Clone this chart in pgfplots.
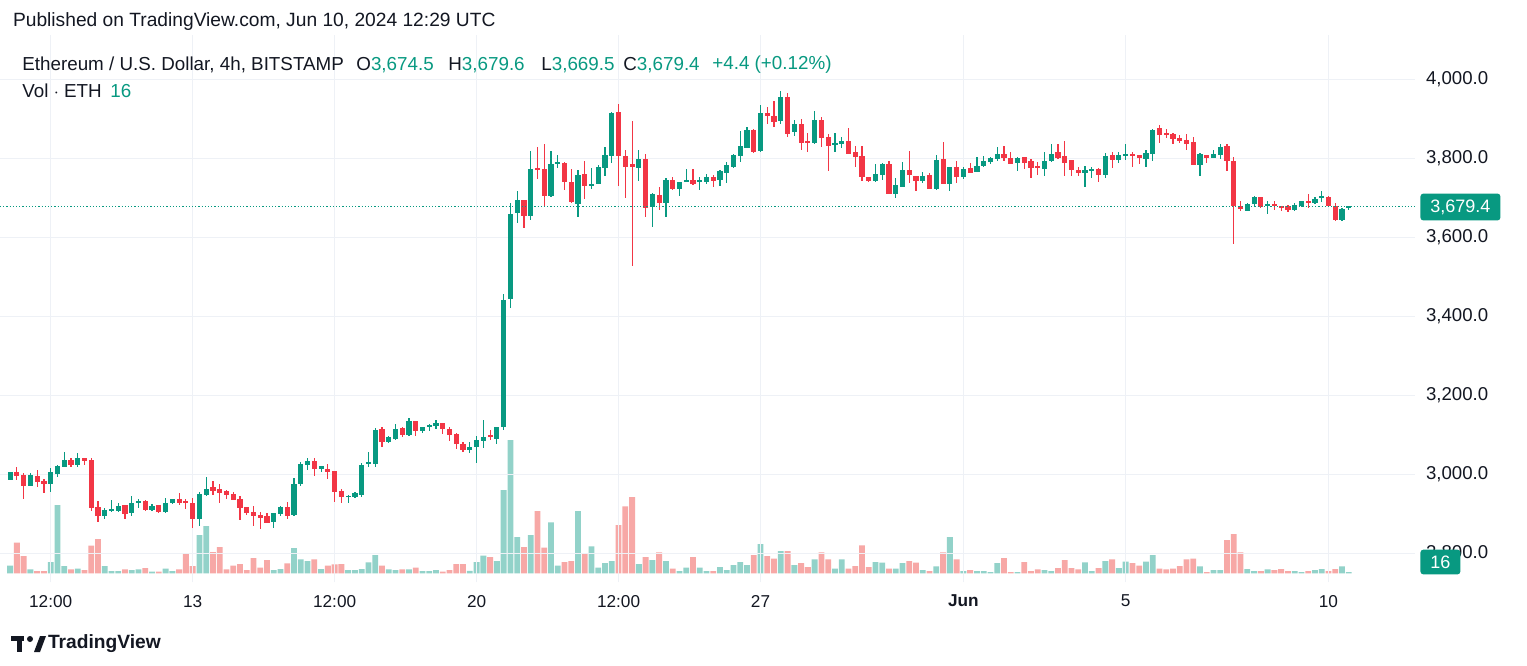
\documentclass[border=0pt]{standalone}
\usepackage{pgfplots}
\pgfplotsset{compat=1.18}
\usepackage{pgfplotstable}
\usepackage{fontspec}
\setmainfont{Liberation Sans}
\definecolor{cg}{RGB}{8,153,129}
\definecolor{cr}{RGB}{242,54,69}
\definecolor{vg}{RGB}{146,210,201}
\definecolor{vr}{RGB}{247,168,166}
\definecolor{txt}{RGB}{19,23,34}
\definecolor{gridc}{RGB}{238,241,246}
\newcommand{\fs}[1]{\fontsize{#1}{#1}\selectfont}
% rising candles: index, open, high, low, close, volume
\pgfplotstableread{
i o h l c v
0 2988 3007 2986 3006 7.7
3 2972 3003 2970 2997 4
6 2976 3017 2955 3005 11.3
7 3003 3024 2993 3020 68.3
8 3020 3056 3018 3037 7.3
10 3026 3054 3020 3042 4.7
14 2897 2915 2887 2910 7.3
15 2908 2935 2906 2912 2.3
16 2908 2927 2906 2920 2.3
18 2903 2946 2896 2926 3.3
19 2930 2939 2916 2933 4
21 2912 2926 2908 2920 1.7
23 2905 2940 2903 2928 4.7
24 2928 2939 2926 2937 2.3
28 2887 2955 2870 2950 38.3
29 2950 2994 2946 2963 47.3
39 2881 2903 2865 2902 3.3
40 2900 2920 2896 2917 4.3
42 2898 2990 2896 2976 25.3
43 2978 3031 2972 3027 14
44 3026 3043 3011 3034 12.3
46 3016 3022 3006 3020 4.3
50 2944 2947 2927 2946 3.3
51 2944 2956 2940 2952 3.3
52 2950 3030 2943 3024 4.3
53 3028 3056 3020 3031 11
54 3028 3119 3020 3111 18.3
56 3082 3097 3079 3094 4
57 3090 3127 3087 3115 3.3
59 3100 3144 3098 3135 4
61 3110 3121 3105 3120 2.3
62 3123 3128 3110 3125 2.3
63 3123 3138 3115 3130 3.3
68 3064 3083 3054 3070 2.5
69 3070 3098 3028 3087 11.3
70 3085 3138 3066 3093 17.7
72 3090 3121 3077 3120 12.3
73 3120 3457 3113 3442 83.3
74 3444 3688 3422 3660 133.3
75 3663 3718 3637 3695 36.3
77 3655 3819 3644 3773 38.3
80 3706 3819 3703 3786 51
81 3786 3809 3775 3790 7.7
84 3686 3771 3652 3758 62.3
86 3731 3775 3722 3734 27
87 3737 3784 3735 3778 5.7
88 3777 3830 3756 3809 10.3
89 3807 3918 3788 3914 12.3
93 3778 3822 3744 3799 9.3
95 3678 3713 3627 3709 13.3
97 3687 3750 3651 3744 12.3
99 3723 3741 3706 3740 2.3
100 3741 3773 3740 3746 5.7
102 3741 3754 3720 3746 5.7
103 3741 3761 3735 3752 2.3
105 3747 3771 3730 3768 6.3
106 3763 3792 3739 3784 3.3
107 3779 3811 3775 3809 8.3
108 3807 3870 3790 3830 11.3
109 3828 3879 3826 3872 8.3
111 3819 3935 3817 3914 29.3
114 3895 3971 3887 3956 22.3
116 3868 3897 3857 3887 8.3
119 3841 3921 3838 3897 14
122 3834 3864 3817 3838 4.7
123 3838 3854 3826 3844 14
128 3744 3786 3740 3761 11.3
129 3760 3789 3746 3786 10.7
131 3712 3750 3701 3731 4.7
132 3729 3792 3729 3771 10.3
135 3743 3765 3739 3756 3.3
137 3723 3809 3720 3796 7
139 3737 3779 3718 3778 36.3
141 3754 3778 3747 3773 2.3
143 3767 3805 3765 3781 2.3
144 3781 3806 3778 3794 2.3
145 3792 3805 3786 3800 1.3
146 3799 3828 3794 3811 10.3
149 3790 3803 3769 3800 1.3
153 3775 3816 3756 3794 3.3
154 3794 3836 3790 3811 2.3
159 3763 3781 3727 3769 11
160 3771 3779 3750 3773 2.3
162 3760 3815 3751 3806 12.3
164 3796 3817 3788 3809 5.3
165 3807 3838 3796 3811 11.7
168 3799 3822 3779 3813 11.7
169 3811 3875 3794 3872 18.3
176 3785 3813 3756 3811 7
178 3803 3822 3801 3811 3.3
179 3809 3836 3798 3828 3.3
183 3669 3687 3668 3684 4.3
184 3685 3705 3678 3702 2.3
186 3681 3693 3659 3685 4
190 3670 3688 3667 3682 2.3
191 3681 3693 3678 3691 1.3
193 3687 3703 3685 3697 3.3
194 3701 3718 3691 3705 4.3
197 3644 3674 3643 3672 7
198 3674.5 3679.6 3669.5 3679.4 1.3
}\upc
% falling candles: index, open, high, low, close, volume
\pgfplotstableread{
i o h l c v
1 3006 3020 2986 2997 30.7
2 2999 3003 2938 2972 17.3
4 2995 3011 2969 2981 2.3
5 2983 2989 2952 2976 2.3
9 3037 3042 3020 3026 4
11 3042 3043 3024 3035 3.3
12 3037 3043 2908 2916 27.7
13 2917 2933 2881 2897 34.3
17 2922 2924 2887 2900 4
20 2932 2935 2908 2912 5.3
22 2922 2923 2903 2905 1.7
25 2937 2954 2923 2928 4
26 2933 2937 2914 2928 20
27 2928 2940 2865 2887 7.3
30 2967 2983 2948 2958 21.3
31 2962 2976 2929 2955 26.3
32 2958 2962 2938 2948 4
33 2951 2957 2936 2937 7.7
34 2938 2946 2885 2916 9.3
35 2917 2918 2897 2903 3.3
36 2905 2920 2870 2895 15.3
37 2897 2906 2862 2891 5.7
38 2895 2902 2878 2879 13.3
41 2917 2931 2887 2896 10
45 3033 3041 2997 3014 14
47 3014 3027 2988 3007 7.7
48 3007 3009 2931 2957 9
49 2957 2963 2927 2944 9.3
55 3115 3121 3070 3082 7.7
58 3117 3121 3096 3100 4
60 3135 3136 3097 3110 5.7
64 3130 3131 3102 3115 1.7
65 3115 3121 3086 3100 3.3
66 3102 3105 3064 3079 9.3
67 3077 3082 3056 3064 9.3
71 3100 3113 3087 3096 16.3
76 3695 3696 3625 3655 26.3
78 3775 3830 3747 3771 62.3
79 3773 3836 3681 3706 25.7
82 3788 3790 3720 3741 11.3
83 3741 3773 3687 3691 12.3
85 3760 3794 3697 3731 20
90 3917 3937 3731 3807 48.3
91 3806 3822 3701 3779 67
92 3785 3895 3529 3779 76.3
94 3799 3811 3651 3676 16.3
96 3708 3727 3670 3689 21
98 3744 3752 3720 3723 4.7
101 3746 3773 3733 3736 16.3
104 3752 3758 3727 3744 2.3
110 3872 3874 3813 3817 18.3
112 3914 3930 3887 3908 17.3
113 3908 3946 3880 3893 14.7
115 3956 3965 3854 3864 22.3
117 3887 3899 3822 3841 10.3
118 3844 3864 3817 3841 6.3
120 3897 3905 3828 3854 21
121 3854 3862 3769 3832 14
124 3843 3877 3811 3813 4.7
125 3815 3832 3779 3805 7.3
126 3805 3832 3744 3754 28
127 3752 3754 3741 3744 6.3
130 3785 3794 3710 3712 4.7
133 3771 3820 3739 3760 12.3
134 3754 3756 3718 3744 10.7
136 3758 3763 3722 3723 2.3
138 3798 3843 3735 3737 21
140 3778 3794 3737 3754 14
142 3775 3788 3763 3765 3.3
147 3811 3832 3794 3803 15.3
148 3800 3816 3786 3788 1.3
150 3803 3805 3773 3790 11.3
151 3794 3798 3750 3778 2.3
152 3781 3792 3758 3778 4
155 3815 3836 3800 3803 5.3
156 3805 3845 3756 3790 13.3
157 3795 3796 3756 3771 5.3
158 3769 3779 3756 3763 4
161 3773 3775 3740 3760 5.3
163 3809 3816 3777 3798 14
166 3811 3816 3778 3807 10.3
167 3807 3809 3785 3801 7.7
170 3876 3885 3840 3861 4.7
171 3864 3875 3853 3860 4
172 3861 3864 3837 3849 4.7
173 3851 3859 3840 3844 7.3
174 3847 3862 3822 3838 14
175 3840 3854 3783 3785 14.7
177 3809 3810 3789 3803 1.3
180 3832 3837 3769 3794 33.3
181 3794 3803 3584 3680 39.3
182 3680 3693 3668 3672 21
185 3702 3703 3676 3678 2.3
187 3685 3693 3670 3680 3.3
188 3680 3681 3667 3676 4.3
189 3678 3682 3665 3670 2.3
192 3692 3709 3676 3688 2.3
195 3703 3704 3678 3680 2.3
196 3678 3687 3643 3644 4.3
}\downc
\pgfplotsset{candle/.style={only marks, mark=text, text mark={},
  error bars/.cd, y dir=both, y explicit, error mark=none}}
\begin{document}
\begin{tikzpicture}[x=0.5pt,y=-0.5pt]
\useasboundingbox (0,0) rectangle (1527,665);
\fill[white] (0,0) rectangle (1527,665);
% volume pane
\begin{axis}[at={(0pt,-291pt)}, anchor=south west, scale only axis,
  width=707.5pt, height=273.5pt, hide axis,
  xmin=-1.494, xmax=207.8, ymin=-8.7, ymax=538.3,
  ybar, bar width=2.9pt]
\addplot[fill=vg, draw=none, bar shift=0pt] table[x=i, y=v] {\upc};
\addplot[fill=vr, draw=none, bar shift=0pt] table[x=i, y=v] {\downc};
\end{axis}
% price pane
\begin{axis}[at={(0pt,-291pt)}, anchor=south west, scale only axis,
  width=707.5pt, height=273.5pt,
  xmin=-1.494, xmax=207.8, ymin=2727.9, ymax=4112.7,
  axis line style={draw=none}, major tick length=0pt,
  grid=major, major grid style={gridc, line width=0.6pt},
  ytick={2800,3000,3200,3400,3600,3800,4000},
  yticklabels={{2,800.0},{3,000.0},{3,200.0},{3,400.0},{3,600.0},{3,800.0},{4,000.0}},
  yticklabel pos=right,
  yticklabel style={anchor=west, xshift=2pt, font=\fs{9.3pt}, text=txt},
  xtick={6,27,48,69,90,111,141,165,195},
  xticklabels={12:00,13,12:00,20,12:00,27,\textbf{Jun},5,10},
  xticklabel style={font=\fs{8.6pt}, text=txt, yshift=-3pt},
  clip=false]
\addplot[candle, error bar style={cg, line width=0.6pt}]
  table[x=i, y expr=(\thisrow{h}+\thisrow{l})/2, y error expr=(\thisrow{h}-\thisrow{l})/2] {\upc};
\addplot[candle, error bar style={cr, line width=0.6pt}]
  table[x=i, y expr=(\thisrow{h}+\thisrow{l})/2, y error expr=(\thisrow{h}-\thisrow{l})/2] {\downc};
\addplot[candle, error bar style={cg, line width=2.6pt}]
  table[x=i, y expr=(\thisrow{o}+\thisrow{c})/2, y error expr=(\thisrow{c}-\thisrow{o})/2+0.8] {\upc};
\addplot[candle, error bar style={cr, line width=2.6pt}]
  table[x=i, y expr=(\thisrow{o}+\thisrow{c})/2, y error expr=(\thisrow{o}-\thisrow{c})/2+0.8] {\downc};
\addplot[cg, densely dotted, line width=0.6pt] coordinates {(-1.494,3679.4) (207.8,3679.4)};
\end{axis}
% last price and volume labels
\node[fill=cg, text=white, rounded corners=1.5pt, anchor=west, inner xsep=5pt, inner ysep=3pt, font=\fs{9pt}] at (1420,207) {3,679.4};
\node[fill=cg, text=white, rounded corners=1.5pt, anchor=west, inner xsep=5pt, inner ysep=3pt, font=\fs{9pt}] at (1420,562) {16};
% header
\node[anchor=west, text=txt, font=\fs{9.6pt}] at (6,22) {Published on TradingView.com, Jun 10, 2024 12:29 UTC};
\begin{scope}[every node/.style={anchor=west, text=txt, font=\fs{9.4pt}, inner xsep=0pt}]
\node at (22,65) {Ethereum / U.S. Dollar, 4h, BITSTAMP};
\node at (356,65) {O\textcolor{cg}{3,674.5}};
\node at (448,65) {H\textcolor{cg}{3,679.6}};
\node at (541,65) {L\textcolor{cg}{3,669.5}};
\node at (623,65) {C\textcolor{cg}{3,679.4}};
\node at (712,65) {\textcolor{cg}{+4.4 (+0.12\%)}};
\node at (22,91) {Vol $\cdot$ ETH};
\node at (110,91) {\textcolor{cg}{16}};
\end{scope}
% logo
\fill[txt] (11,636) rectangle (24,641);
\fill[txt] (17,636) rectangle (22,652);
\fill[txt] (30,639) circle (3);
\fill[txt] (34,652) -- (40,636) -- (46,636) -- (40,652) -- cycle;
\node[anchor=west, text=txt, font=\bfseries\fs{9.6pt}] at (41,644) {TradingView};
\end{tikzpicture}
\end{document}
